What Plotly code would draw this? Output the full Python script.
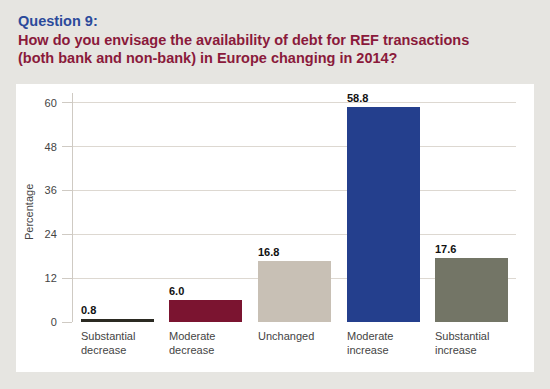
import plotly.graph_objects as go

categories = ["Substantial<br>decrease", "Moderate<br>decrease", "Unchanged", "Moderate<br>increase", "Substantial<br>increase"]
values = [0.8, 6.0, 16.8, 58.8, 17.6]
value_labels = ["0.8", "6.0", "16.8", "58.8", "17.6"]
bar_colors = ["#2b2a22", "#7b1430", "#c8c0b5", "#243f8d", "#737566"]
y_ticks = [0, 12, 24, 36, 48, 60]

title_q = "Question 9:"
title_lines = ["How do you envisage the availability of debt for REF transactions",
               "(both bank and non-bank) in Europe changing in 2014?"]
y_title = "Percentage"

W, H = 550, 389
BAR_W = 0.825
xs = list(range(len(categories)))

fig = go.Figure()
fig.add_trace(go.Bar(x=xs, y=values, width=BAR_W, marker=dict(color=bar_colors, line=dict(width=0)),
                     hoverinfo="skip"))

FONT = "Liberation Sans, Arial, sans-serif"
L, R, T, B = 73, 34, 93, 67
pw, ph = W - L - R, H - T - B


def px_x(x):
    return (x - L) / pw


def px_y(y):
    return (H - y - B) / ph


ann = []
# value labels
for i, (v, t) in enumerate(zip(values, value_labels)):
    ann.append(dict(x=i - BAR_W / 2, y=v, xref="x", yref="y", text="<b>%s</b>" % t, showarrow=False,
                    xanchor="left", yanchor="bottom", yshift=1, xshift=-2,
                    font=dict(family=FONT, size=11, color="#111111")))
# category labels
for i, c in enumerate(categories):
    ann.append(dict(x=i - BAR_W / 2, y=0, xref="x", yref="y", text=c, showarrow=False,
                    xanchor="left", yanchor="top", yshift=-6, xshift=-2, align="left",
                    font=dict(family=FONT, size=11, color="#444444")))
# titles
ann.append(dict(x=px_x(16), y=px_y(21), xref="paper", yref="paper", text="<b>%s</b>" % title_q,
                showarrow=False, xanchor="left", yanchor="middle",
                font=dict(family=FONT, size=14.5, color="#2b4a9b")))
for k, line in enumerate(title_lines):
    ann.append(dict(x=px_x(16), y=px_y(39.5 + 18 * k), xref="paper", yref="paper", text="<b>%s</b>" % line,
                    showarrow=False, xanchor="left", yanchor="middle",
                    font=dict(family=FONT, size=14.5, color="#8a1a3b")))
# y-axis title
ann.append(dict(x=px_x(29), y=px_y(212), xref="paper", yref="paper", text=y_title, textangle=-90,
                showarrow=False, xanchor="center", yanchor="middle",
                font=dict(family=FONT, size=11, color="#444444")))

fig.update_layout(
    width=W, height=H,
    margin=dict(l=L, r=R, t=T, b=B, autoexpand=False),
    paper_bgcolor="#e6e5e1",
    plot_bgcolor="white",
    showlegend=False,
    bargap=0,
    annotations=ann,
    shapes=[dict(type="rect", xref="paper", yref="paper",
                 x0=px_x(16), x1=px_x(534), y0=px_y(372), y1=px_y(84),
                 fillcolor="white", line=dict(width=0), layer="below")],
    xaxis=dict(range=[-0.5, 4.5], showticklabels=False, ticks="", showgrid=False, zeroline=False,
               showline=False, fixedrange=True, automargin=False),
    yaxis=dict(range=[0, 62.7], tickvals=y_ticks, ticks="outside", ticklen=10, tickcolor="#cfcac3",
               gridcolor="#ddd8d1", gridwidth=1, showline=True, linecolor="#cfcac3", linewidth=1,
               zeroline=False, automargin=False, ticklabelstandoff=3, fixedrange=True,
               tickfont=dict(family=FONT, size=11, color="#444444")),
)
fig.write_html("out.html", config={"displayModeBar": False},
               post_script="document.body.style.margin='0';document.body.style.overflow='hidden';")
